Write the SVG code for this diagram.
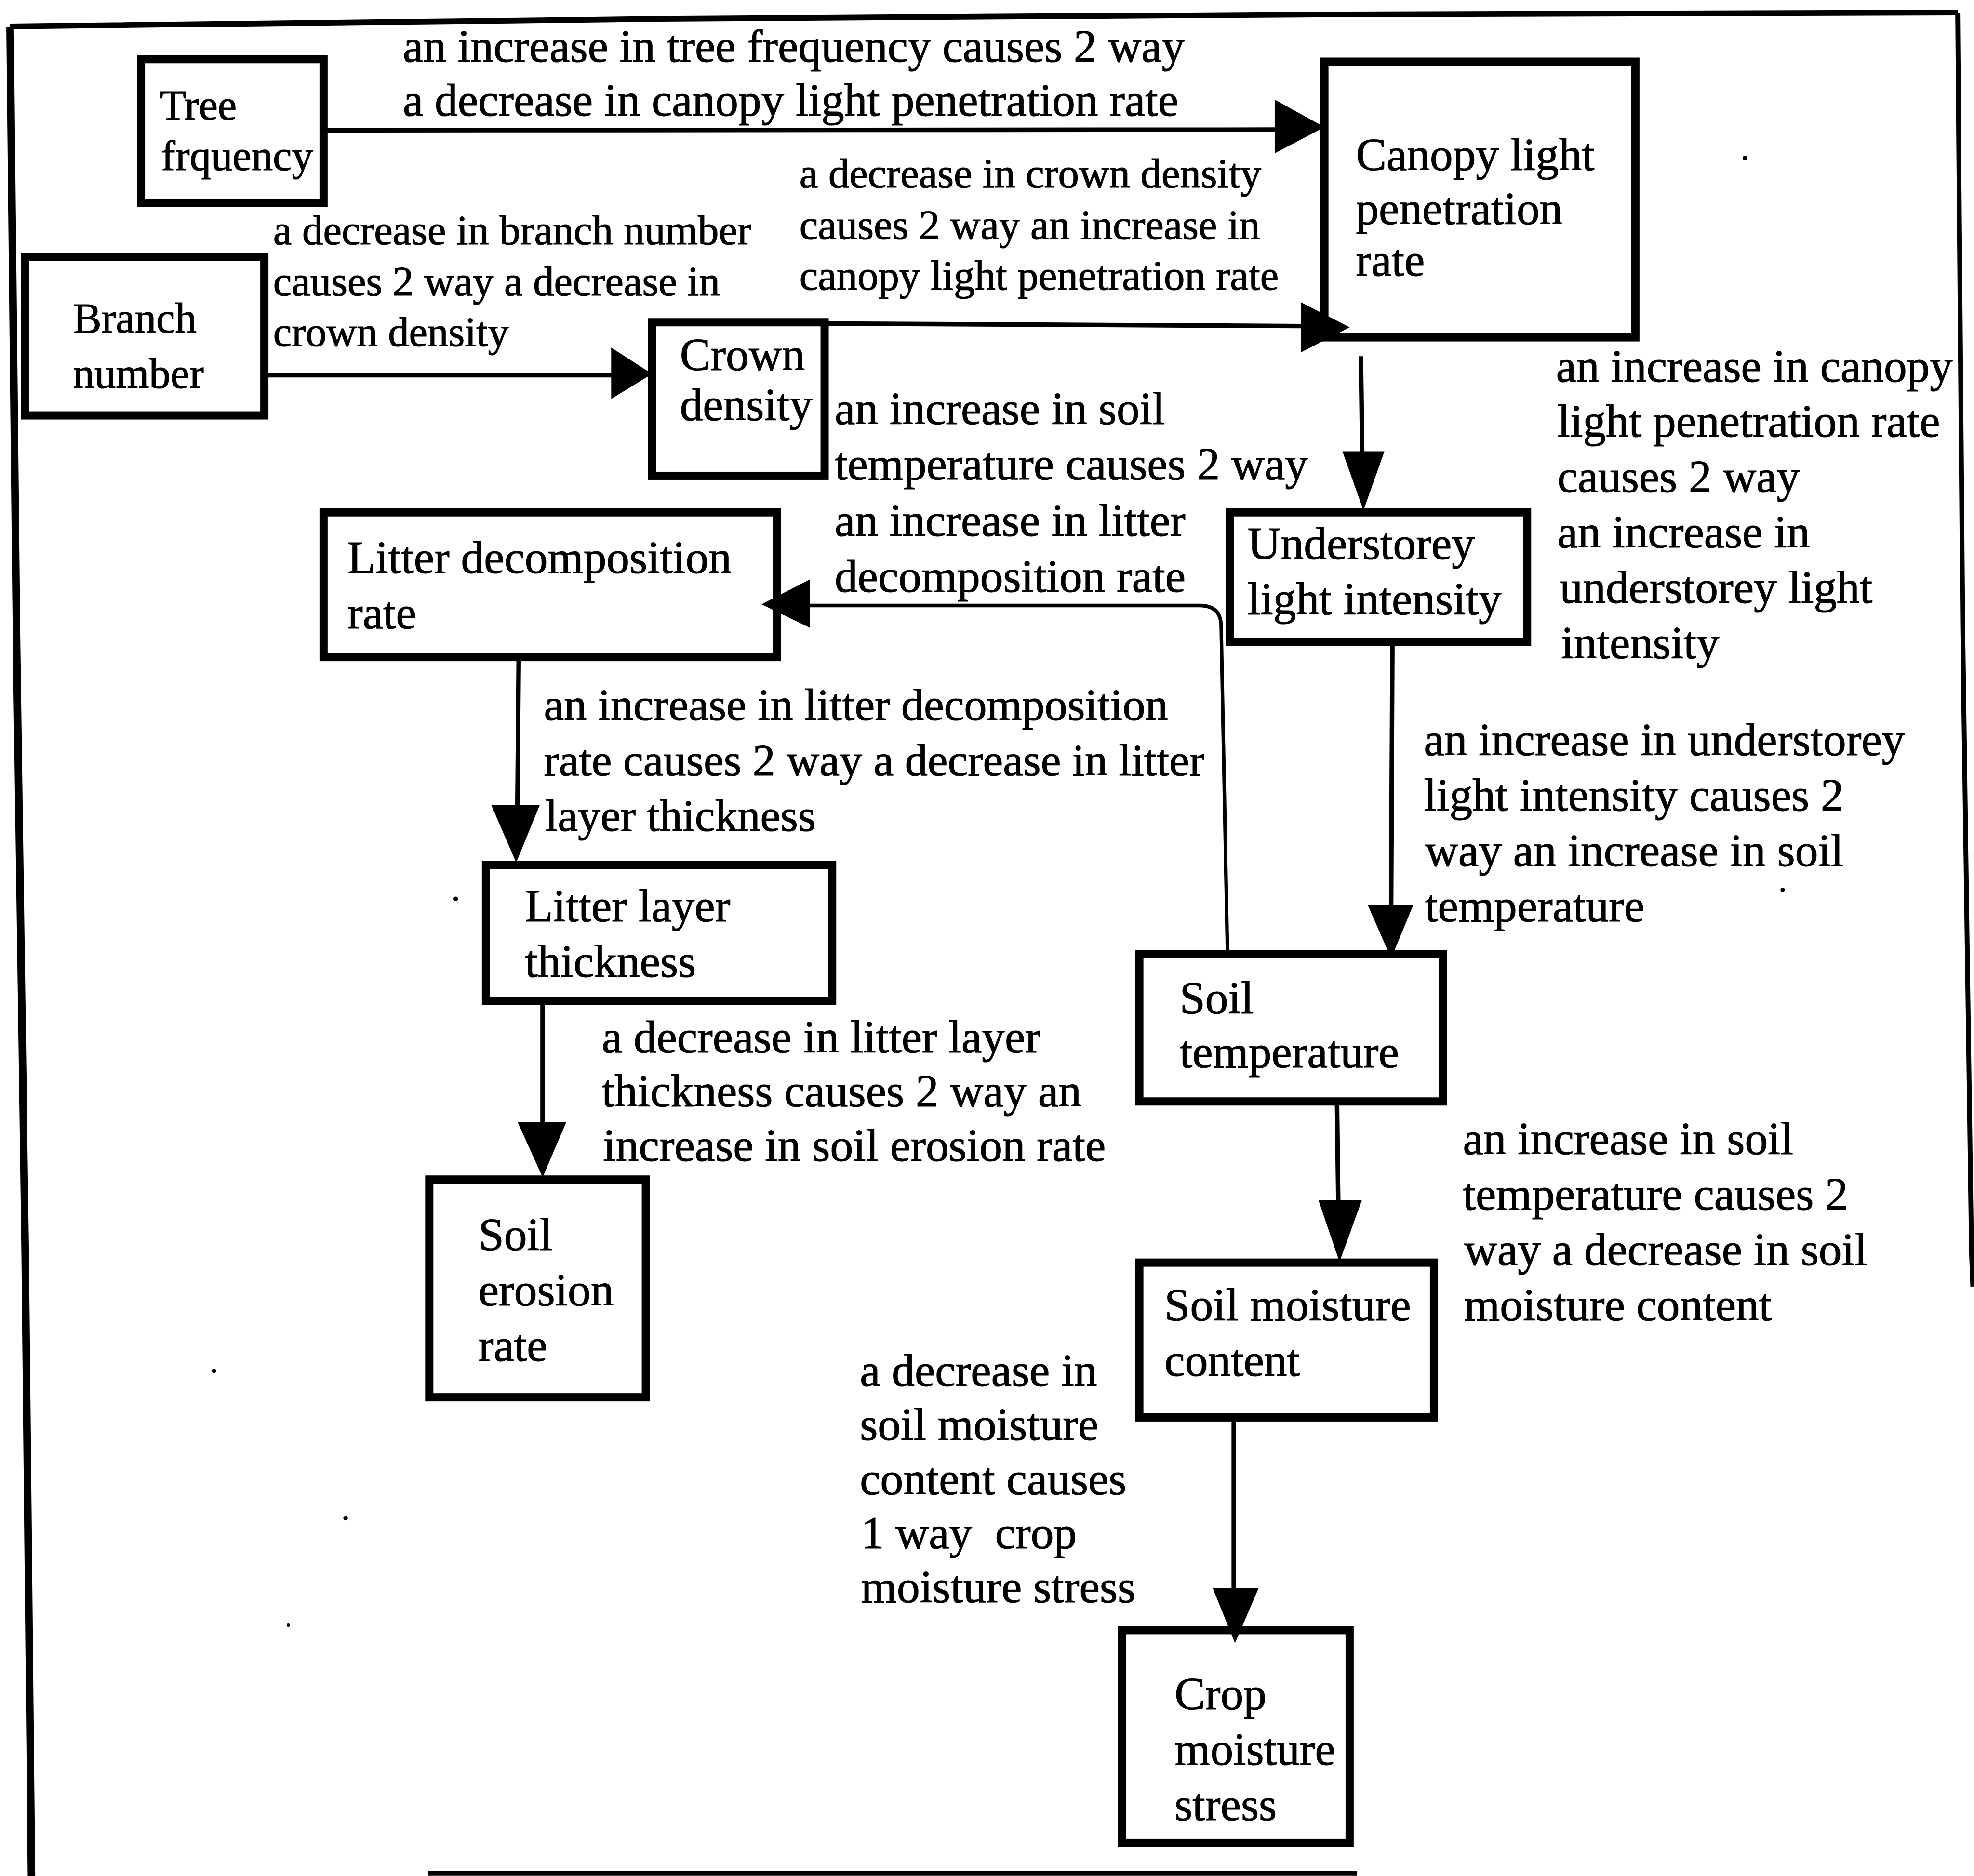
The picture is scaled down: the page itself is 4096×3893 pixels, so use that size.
<svg xmlns="http://www.w3.org/2000/svg" width="4096" height="3893" viewBox="0 0 4096 3893">
<style>
.box{fill:none;stroke:#000;stroke-width:6.5;stroke-linejoin:miter}
.ln{fill:none;stroke:#000;stroke-width:3.6;stroke-linecap:butt}
.fb{stroke-width:2.8}
.ah{fill:#000;stroke:#000;stroke-width:1}
.fr{fill:none;stroke:#000;stroke-linejoin:round}
.dot{fill:#000}
text{font-family:"Liberation Serif","Times New Roman",serif;font-size:36.5px;fill:#000;stroke:#000;stroke-width:0.45}
.s{font-size:33.2px}
.n34{font-size:34px}
.m36{font-size:36px}
</style>
<rect x="0" y="0" width="4096" height="3893" fill="#fff"/>
<g transform="scale(2.6123)">
<g id="frame">
<polyline class="fr" stroke-width="4.5" points="8,21 524,15 1046,11.5 1555,10"/>
<polyline class="fr" stroke-width="6" points="8,21 13,497 20,994 25,1490"/>
<polyline class="fr" stroke-width="3.8" points="1555,10 1559,498 1566,995 1567,1022"/>
<line class="fr" stroke-width="3.5" x1="340" y1="1488" x2="1078" y2="1488"/>
<circle class="dot" cx="1386" cy="125.5" r="1.8"/>
<circle class="dot" cx="362" cy="714" r="1.8"/>
<circle class="dot" cx="1416" cy="707" r="1.8"/>
<circle class="dot" cx="170" cy="1089" r="1.8"/>
<circle class="dot" cx="274.5" cy="1206" r="1.8"/>
<circle class="dot" cx="229" cy="1291" r="1.3"/>
</g>
<g id="node-tree-frequency">
<rect class="box" x="112" y="47" width="145" height="114"/>
<text class="n34" x="127" y="95">Tree</text>
<text class="n34" x="128" y="135">frquency</text>
</g>
<g id="node-branch-number">
<rect class="box" x="20" y="204" width="190" height="126"/>
<text class="n34" x="58" y="264">Branch</text>
<text class="n34" x="58" y="308">number</text>
</g>
<g id="node-crown-density">
<rect class="box" x="518" y="256" width="137" height="122"/>
<text x="540" y="294">Crown</text>
<text x="540" y="334">density</text>
</g>
<g id="node-canopy-light">
<rect class="box" x="1052" y="49" width="247" height="219"/>
<text x="1077" y="135">Canopy light</text>
<text x="1077" y="178">penetration</text>
<text x="1077" y="219">rate</text>
</g>
<g id="node-litter-decomposition">
<rect class="box" x="257" y="407" width="360" height="115"/>
<text x="276" y="455">Litter decomposition</text>
<text x="276" y="499">rate</text>
</g>
<g id="node-understorey">
<rect class="box" x="977" y="407" width="236" height="103"/>
<text x="991" y="444">Understorey</text>
<text x="991" y="488">light intensity</text>
</g>
<g id="node-litter-layer">
<rect class="box" x="386" y="687" width="275" height="108"/>
<text x="417" y="732">Litter layer</text>
<text x="417" y="776">thickness</text>
</g>
<g id="node-soil-temperature">
<rect class="box" x="905" y="758" width="241" height="117"/>
<text x="937" y="805">Soil</text>
<text x="937" y="848">temperature</text>
</g>
<g id="node-soil-erosion">
<rect class="box" x="341" y="937" width="172" height="173"/>
<text x="380" y="993">Soil</text>
<text x="380" y="1037">erosion</text>
<text x="380" y="1081">rate</text>
</g>
<g id="node-soil-moisture">
<rect class="box" x="905" y="1003" width="234" height="123"/>
<text x="925" y="1049">Soil moisture</text>
<text x="925" y="1093">content</text>
</g>
<g id="node-crop-stress">
<rect class="box" x="891" y="1295" width="181" height="169"/>
<text x="933" y="1358">Crop</text>
<text x="933" y="1402">moisture</text>
<text x="933" y="1446">stress</text>
</g>
<g id="connectors">
<path class="ln" d="M259,103.5 L1014,103"/>
<polygon class="ah" points="1013,80 1051,101 1013,121"/>
<path class="ln" d="M212,298 L487,298"/>
<polygon class="ah" points="486,277 517,297 486,316"/>
<path class="ln" d="M655,257 L1035,259"/>
<polygon class="ah" points="1034,241 1071,260 1034,279"/>
<path class="ln" d="M1081,283 L1082,360"/>
<polygon class="ah" points="1067,359 1083,404 1099,359"/>
<path class="ln fb" d="M975,758 L970,498 Q970,481 953,481 L642,481"/>
<polygon class="ah" points="643,461 606,480 643,498"/>
<path class="ln" d="M412,524 L411,641"/>
<polygon class="ah" points="391,640 410,684 428,640"/>
<path class="ln" d="M1106,511 L1105,720"/>
<polygon class="ah" points="1087,719 1105,760 1122,719"/>
<path class="ln" d="M431,797 L431,893"/>
<polygon class="ah" points="412,892 431,934 449,892"/>
<path class="ln" d="M1062,876 L1063,955"/>
<polygon class="ah" points="1048,954 1064,1001 1081,954"/>
<path class="ln" d="M980,1127 L980,1263"/>
<polygon class="ah" points="964,1262 981,1304 999,1262"/>
</g>
<g id="edge-labels">
<text x="320" y="49">an increase in tree frequency causes 2 way</text>
<text x="320" y="92">a decrease in canopy light penetration rate</text>
<text class="s" x="217" y="194">a decrease in branch number</text>
<text class="s" x="217" y="234.5">causes 2 way a decrease in</text>
<text class="s" x="217" y="275">crown density</text>
<text class="s" x="635" y="149">a decrease in crown density</text>
<text class="s" x="635" y="190">causes 2 way an increase in</text>
<text class="s" x="635" y="230">canopy light penetration rate</text>
<text x="663" y="337">an increase in soil</text>
<text x="663" y="381">temperature causes 2 way</text>
<text x="663" y="425.5">an increase in litter</text>
<text x="663" y="470">decomposition rate</text>
<text x="1236" y="303">an increase in canopy</text>
<text x="1237" y="347">light penetration rate</text>
<text x="1237" y="391">causes 2 way</text>
<text x="1237" y="435">an increase in</text>
<text x="1239" y="479">understorey light</text>
<text x="1240" y="523">intensity</text>
<text x="1131" y="600">an increase in understorey</text>
<text x="1131" y="644">light intensity causes 2</text>
<text x="1132" y="688">way an increase in soil</text>
<text x="1132" y="732">temperature</text>
<text class="m36" x="432" y="572">an increase in litter decomposition</text>
<text class="m36" x="432" y="616">rate causes 2 way a decrease in litter</text>
<text class="m36" x="433" y="660">layer thickness</text>
<text x="478" y="836">a decrease in litter layer</text>
<text x="478" y="879">thickness causes 2 way an</text>
<text x="479" y="922">increase in soil erosion rate</text>
<text x="1162" y="917">an increase in soil</text>
<text x="1162" y="961">temperature causes 2</text>
<text x="1163" y="1005">way a decrease in soil</text>
<text x="1163" y="1049">moisture content</text>
<text x="683" y="1101">a decrease in</text>
<text x="683" y="1144">soil moisture</text>
<text x="683" y="1187">content causes</text>
<text x="684" y="1230" xml:space="preserve">1 way  crop</text>
<text x="684" y="1273">moisture stress</text>
</g>
</g>
</svg>
